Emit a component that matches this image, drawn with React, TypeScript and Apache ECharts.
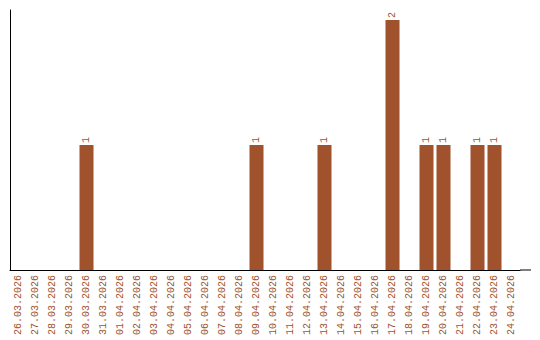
import React, { useEffect, useRef } from "react";
import * as echarts from "echarts";

const categories = [
  "26.03.2026", "27.03.2026", "28.03.2026", "29.03.2026", "30.03.2026", "31.03.2026",
  "01.04.2026", "02.04.2026", "03.04.2026", "04.04.2026", "05.04.2026", "06.04.2026",
  "07.04.2026", "08.04.2026", "09.04.2026", "10.04.2026", "11.04.2026", "12.04.2026",
  "13.04.2026", "14.04.2026", "15.04.2026", "16.04.2026", "17.04.2026", "18.04.2026",
  "19.04.2026", "20.04.2026", "21.04.2026", "22.04.2026", "23.04.2026", "24.04.2026",
];
const values = [
  0, 0, 0, 0, 1, 0,
  0, 0, 0, 0, 0, 0,
  0, 0, 1, 0, 0, 0,
  1, 0, 0, 0, 2, 0,
  1, 1, 0, 1, 1, 0,
];

const COLOR = "#A0522D";
const FONT = "'Liberation Mono', monospace";

export default function App() {
  const ref = useRef<HTMLDivElement>(null);
  useEffect(() => {
    if (!ref.current) return;
    const chart = echarts.init(ref.current, null, { renderer: "svg" });
    chart.setOption({
      animation: false,
      backgroundColor: "#ffffff",
      grid: { left: 10, right: 20, top: 10, bottom: 70, containLabel: false },
      xAxis: {
        type: "category",
        data: categories,
        axisLine: { show: true, lineStyle: { color: "#000", width: 1 } },
        axisTick: { show: false },
        axisLabel: {
          rotate: 90,
          interval: 0,
          margin: 5,
          color: COLOR,
          fontFamily: FONT,
          fontSize: 10,
        },
        splitLine: { show: false },
      },
      yAxis: {
        type: "value",
        min: 0,
        max: 2.08,
        axisLine: { show: true, lineStyle: { color: "#000", width: 1 } },
        axisTick: { show: false },
        axisLabel: { show: false },
        splitLine: { show: false },
      },
      graphic: [
        {
          type: "line",
          shape: { x1: 520, y1: 270, x2: 531, y2: 270 },
          style: { stroke: "#000", lineWidth: 1 },
        },
      ],
      series: [
        {
          type: "bar",
          data: values.map((v) => (v === 0 ? null : v)),
          barWidth: 14,
          itemStyle: { color: COLOR },
          label: {
            show: true,
            position: "top",
            rotate: 90,
            align: "left",
            verticalAlign: "middle",
            distance: 2,
            color: COLOR,
            fontFamily: FONT,
            fontSize: 10,
          },
        },
      ],
    });
    return () => chart.dispose();
  }, []);
  return <div ref={ref} style={{ width: 540, height: 340, position: "absolute", left: 0, top: 0 }} />;
}
